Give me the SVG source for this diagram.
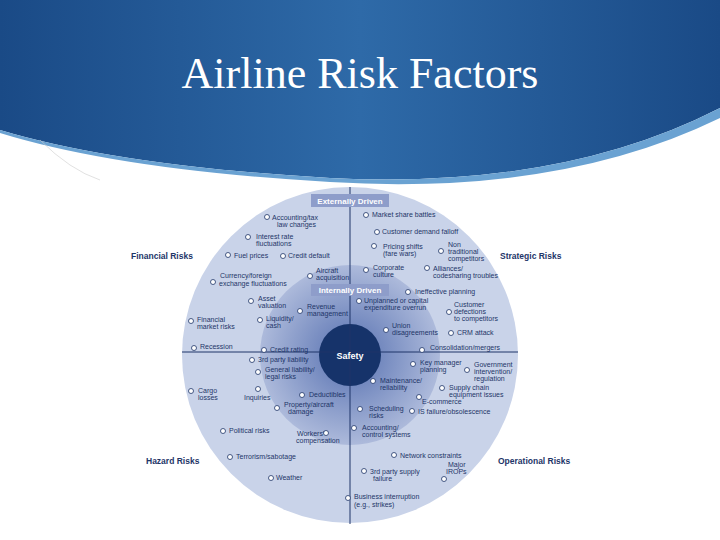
<svg xmlns="http://www.w3.org/2000/svg" width="720" height="540" viewBox="0 0 720 540">
<defs>
<linearGradient id="hdr" x1="0" y1="0" x2="1" y2="0">
<stop offset="0" stop-color="#1a4a86"/><stop offset="0.5" stop-color="#2e6aa8"/><stop offset="1" stop-color="#1a4a86"/>
</linearGradient>
<radialGradient id="mid" cx="0.5" cy="0.5" r="0.5">
<stop offset="0.3" stop-color="#7086bd"/><stop offset="1" stop-color="#adbadb"/>
</radialGradient>
<style>
.t{font-family:"Liberation Sans",Arial,sans-serif;font-size:7px;fill:#1e3568}
.c{fill:#fff;stroke:#1e3568;stroke-width:0.8}
.q{font-family:"Liberation Sans",Arial,sans-serif;font-size:8.5px;fill:#1e3568;font-weight:bold}
.b{font-family:"Liberation Sans",Arial,sans-serif;font-size:8px;fill:#fff;font-weight:bold}
</style>
</defs>
<rect width="720" height="540" fill="#fff"/>
<path d="M0,0 H720 V108 Q560,190 330,178 Q120,166 0,130 Z" fill="url(#hdr)"/>
<path d="M0,130 Q120,166 330,178 Q560,190 720,108 V118 Q560,196 330,182 Q120,170 0,133 Z" fill="#6aa2d2"/>
<path d="M40,140 Q70,170 100,180" fill="none" stroke="#ccc" stroke-width="0.6"/>
<text x="360" y="88" text-anchor="middle" font-family="Liberation Serif,serif" font-size="44" fill="#fff">Airline Risk Factors</text>

<g id="rings">
<circle cx="350" cy="355" r="168" fill="#c9d3e9"/>
<circle cx="350" cy="355" r="90" fill="url(#mid)"/>
<circle cx="350" cy="355" r="31" fill="#16336a"/>
</g>
<g id="connectors" stroke="#1e3568" stroke-width="1">
<line x1="182" y1="352" x2="518" y2="352"/>
<line x1="350" y1="187" x2="350" y2="524"/>
</g>
<g id="labels">
<rect x="311" y="194" width="78" height="13" fill="#8e9dca"/>
<text class="b" x="350" y="203.5" text-anchor="middle">Externally Driven</text>
<rect x="311" y="284" width="78" height="12" fill="#8e9dca"/>
<text class="b" x="350" y="293" text-anchor="middle">Internally Driven</text>
<text x="350" y="359" text-anchor="middle" font-family="Liberation Sans,Arial,sans-serif" font-size="9" font-weight="bold" fill="#fff">Safety</text>
<text class="q" x="131" y="259">Financial Risks</text>
<text class="q" x="500" y="259">Strategic Risks</text>
<text class="q" x="146" y="464">Hazard Risks</text>
<text class="q" x="498" y="464">Operational Risks</text>
</g>
<g id="items">
<circle class="c" cx="267" cy="217" r="2.5"/><text class="t" x="272" y="220">Accounting/tax</text><text class="t" x="277" y="227">law changes</text>
<circle class="c" cx="248" cy="237" r="2.5"/><text class="t" x="256" y="239">Interest rate</text><text class="t" x="256" y="246">fluctuations</text>
<circle class="c" cx="228" cy="255" r="2.5"/><text class="t" x="234" y="258">Fuel prices</text>
<circle class="c" cx="283" cy="256" r="2.5"/><text class="t" x="288" y="258">Credit default</text>
<circle class="c" cx="213" cy="282" r="2.5"/><text class="t" x="220" y="278">Currency/foreign</text><text class="t" x="219" y="286">exchange fluctuations</text>
<circle class="c" cx="310" cy="276" r="2.5"/><text class="t" x="316" y="273">Aircraft</text><text class="t" x="316" y="280">acquisition</text>
<circle class="c" cx="251" cy="301" r="2.5"/><text class="t" x="258" y="301">Asset</text><text class="t" x="258" y="308">valuation</text>
<circle class="c" cx="300" cy="311" r="2.5"/><text class="t" x="307" y="309">Revenue</text><text class="t" x="307" y="316">management</text>
<circle class="c" cx="191" cy="321" r="2.5"/><text class="t" x="197" y="322">Financial</text><text class="t" x="197" y="329">market risks</text>
<circle class="c" cx="260" cy="320" r="2.5"/><text class="t" x="266" y="321">Liquidity/</text><text class="t" x="266" y="328">cash</text>
<circle class="c" cx="194" cy="348" r="2.5"/><text class="t" x="200" y="349">Recession</text>
<circle class="c" cx="264" cy="350" r="2.5"/><text class="t" x="270" y="352">Credit rating</text>

<circle class="c" cx="252" cy="360" r="2.5"/><text class="t" x="258" y="362">3rd party liability</text>
<circle class="c" cx="258" cy="372" r="2.5"/><text class="t" x="265" y="372">General liability/</text><text class="t" x="265" y="379">legal risks</text>
<circle class="c" cx="191" cy="391" r="2.5"/><text class="t" x="198" y="393">Cargo</text><text class="t" x="198" y="400">losses</text>
<circle class="c" cx="258" cy="389" r="2.5"/><text class="t" x="244" y="400">Inquiries</text>
<circle class="c" cx="302" cy="395" r="2.5"/><text class="t" x="309" y="397">Deductibles</text>
<circle class="c" cx="277" cy="408" r="2.5"/><text class="t" x="284" y="407">Property/aircraft</text><text class="t" x="288" y="414">damage</text>
<circle class="c" cx="223" cy="431" r="2.5"/><text class="t" x="229" y="433">Political risks</text>
<circle class="c" cx="326" cy="433" r="2.5"/><text class="t" x="297" y="436">Workers'</text><text class="t" x="296" y="443">compensation</text>
<circle class="c" cx="230" cy="457" r="2.5"/><text class="t" x="236" y="459">Terrorism/sabotage</text>
<circle class="c" cx="271" cy="478" r="2.5"/><text class="t" x="276" y="480">Weather</text>
<circle class="c" cx="348" cy="498" r="2.5"/><text class="t" x="354" y="499">Business interruption</text><text class="t" x="354" y="507">(e.g., strikes)</text>

<circle class="c" cx="366" cy="215" r="2.5"/><text class="t" x="372" y="217">Market share battles</text>
<circle class="c" cx="377" cy="232" r="2.5"/><text class="t" x="382" y="234">Customer demand falloff</text>
<circle class="c" cx="374" cy="246" r="2.5"/><text class="t" x="383" y="249">Pricing shifts</text><text class="t" x="383" y="256">(fare wars)</text>
<circle class="c" cx="441" cy="251" r="2.5"/><text class="t" x="448" y="247">Non</text><text class="t" x="448" y="254">traditional</text><text class="t" x="448" y="261">competitors</text>
<circle class="c" cx="366" cy="270" r="2.5"/><text class="t" x="373" y="270">Corporate</text><text class="t" x="373" y="277">culture</text>
<circle class="c" cx="427" cy="268" r="2.5"/><text class="t" x="433" y="271">Alliances/</text><text class="t" x="433" y="278">codesharing troubles</text>
<circle class="c" cx="408" cy="292" r="2.5"/><text class="t" x="415" y="294">Ineffective planning</text>
<circle class="c" cx="359" cy="301" r="2.5"/><text class="t" x="364" y="303">Unplanned or capital</text><text class="t" x="364" y="310">expenditure overrun</text>
<circle class="c" cx="449" cy="312" r="2.5"/><text class="t" x="454" y="307">Customer</text><text class="t" x="454" y="314">defections</text><text class="t" x="454" y="321">to competitors</text>
<circle class="c" cx="386" cy="330" r="2.5"/><text class="t" x="392" y="328">Union</text><text class="t" x="392" y="335">disagreements</text>
<circle class="c" cx="451" cy="333" r="2.5"/><text class="t" x="457" y="335">CRM attack</text>
<circle class="c" cx="422" cy="350" r="2.5"/><text class="t" x="430" y="350">Consolidation/mergers</text>

<circle class="c" cx="413" cy="364" r="2.5"/><text class="t" x="420" y="365">Key manager</text><text class="t" x="420" y="372">planning</text>
<circle class="c" cx="467" cy="370" r="2.5"/><text class="t" x="474" y="367">Government</text><text class="t" x="474" y="374">intervention/</text><text class="t" x="474" y="381">regulation</text>
<circle class="c" cx="373" cy="381" r="2.5"/><text class="t" x="380" y="383">Maintenance/</text><text class="t" x="380" y="390">reliability</text>
<circle class="c" cx="442" cy="388" r="2.5"/><text class="t" x="449" y="390">Supply chain</text><text class="t" x="449" y="397">equipment issues</text>
<circle class="c" cx="419" cy="397" r="2.5"/><text class="t" x="422" y="404">E-commerce</text>
<circle class="c" cx="360" cy="409" r="2.5"/><text class="t" x="369" y="411">Scheduling</text><text class="t" x="369" y="418">risks</text>
<circle class="c" cx="412" cy="411" r="2.5"/><text class="t" x="418" y="414">IS failure/obsolescence</text>
<circle class="c" cx="354" cy="428" r="2.5"/><text class="t" x="362" y="430">Accounting/</text><text class="t" x="362" y="437">control systems</text>
<circle class="c" cx="394" cy="455" r="2.5"/><text class="t" x="400" y="458">Network constraints</text>
<circle class="c" cx="444" cy="479" r="2.5"/><text class="t" x="448" y="467">Major</text><text class="t" x="446" y="474">IROPs</text>
<circle class="c" cx="364" cy="471" r="2.5"/><text class="t" x="370" y="474">3rd party supply</text><text class="t" x="373" y="481">failure</text>
</g>
</svg>
